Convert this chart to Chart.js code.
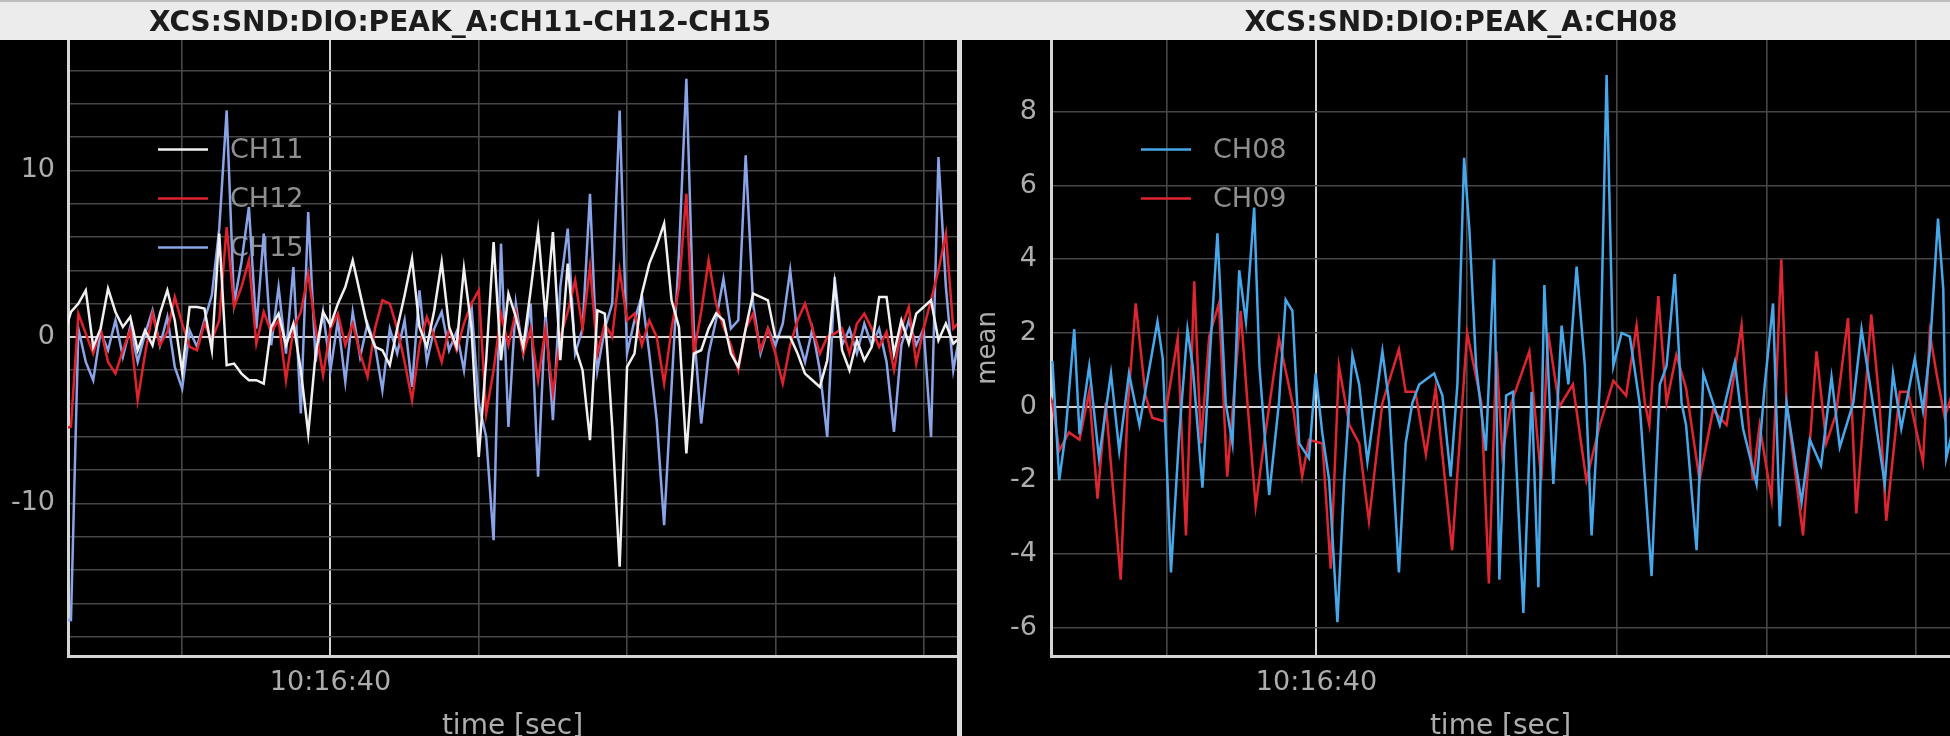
<!DOCTYPE html>
<html>
<head>
<meta charset="utf-8">
<script src="https://cdn.jsdelivr.net/npm/chart.js@4.4.1/dist/chart.umd.min.js"></script>
<style>
  html, body { margin: 0; padding: 0; background: #000; width: 1950px; height: 736px; overflow: hidden; }
  canvas { position: absolute; top: 0; }
  #bar { position: absolute; left: 0; top: 0; width: 1950px; height: 40px; background: #ececec;
         border-top: 2px solid #bdbdbd; box-sizing: border-box; }
  .title { position: absolute; top: 2px; height: 40px; line-height: 40px; transform: translateX(-50%);
           font-family: 'DejaVu Sans'; font-weight: bold; font-size: 28px; color: #1c1c1c; white-space: nowrap; }
  #sep { position: absolute; left: 957px; top: 40px; width: 5px; height: 696px; background: #dcdcdc; }
</style>
</head>
<body>
<canvas id="leftPlot" width="957" height="760" style="left:0px"></canvas>
<div id="sep"></div>
<canvas id="rightPlot" width="988" height="760" style="left:962px"></canvas>
<div id="bar"></div>
<div class="title" style="left:460px">XCS:SND:DIO:PEAK_A:CH11-CH12-CH15</div>
<div class="title" style="left:1461px">XCS:SND:DIO:PEAK_A:CH08</div>
<script>
// Reference clock for the time axis; sample times are seconds relative to it.
const BASE_TIME = '10:16:40';

// Left panel: CH11 / CH12 / CH15 sampled every 0.1 s
const leftTime = [
  -3.6,-3.5,-3.4,-3.3,-3.2,-3.1,-3.0,-2.9,-2.8,-2.7,
  -2.6,-2.5,-2.4,-2.3,-2.2,-2.1,-2.0,-1.9,-1.8,-1.7,
  -1.6,-1.5,-1.4,-1.3,-1.2,-1.1,-1.0,-0.9,-0.8,-0.7,
  -0.6,-0.5,-0.4,-0.3,-0.2,-0.1,
  0.0,0.1,0.2,0.3,0.4,0.5,0.6,0.7,0.8,0.9,
  1.0,1.1,1.2,1.3,1.4,1.5,1.6,1.7,1.8,1.9,
  2.0,2.1,2.2,2.3,2.4,2.5,2.6,2.7,2.8,2.9,
  3.0,3.1,3.2,3.3,3.4,3.5,3.6,3.7,3.8,3.9,
  4.0,4.1,4.2,4.3,4.4,4.5,4.6,4.7,4.8,4.9,
  5.0,5.1,5.2,5.3,5.4,5.5,5.6,5.7,5.8,5.9,
  6.0,6.1,6.2,6.3,6.4,6.5,6.6,6.7,6.8,6.9,
  7.0,7.1,7.2,7.3,7.4,7.5,7.6,7.7,7.8,7.9,
  8.0,8.1,8.2,8.3,8.4,8.5
];
const ch11 = [
  0.0,1.5,2.0,2.8,-0.6,0.5,2.9,1.5,0.6,1.2,
  -0.8,0.4,-0.5,1.4,2.8,1.0,-2.1,1.8,1.8,1.7,
  -0.8,6.2,-1.7,-1.6,-2.2,-2.6,-2.6,-2.8,0.6,1.4,
  -0.5,0.8,-2.0,-5.8,-1.0,1.5,
  0.7,2.0,3.0,4.6,2.6,0.6,-0.6,-0.8,-1.7,0.5,
  2.5,4.7,0.6,-0.6,1.6,4.5,0.6,-0.6,4.1,0.6,
  -7.2,-1.4,5.7,-1.4,2.6,1.2,-0.6,2.8,6.4,1.2,
  6.3,-1.4,4.4,-0.6,-2.0,-6.2,1.6,1.4,-5.4,-13.8,
  -1.8,-1.0,2.6,4.4,5.5,6.8,2.2,0.6,-7.0,-1.0,
  -0.8,0.5,1.4,1.0,-1.0,-1.8,0.5,2.6,2.4,2.2,
  0.0,0.0,0.0,-1.0,-2.2,-2.6,-3.0,-1.4,3.2,-0.8,
  -2.0,-0.2,-1.4,-0.6,2.4,2.4,-1.0,1.0,-0.4,1.4,
  1.8,2.2,-0.2,0.8,-0.4,0.0
];
const ch12 = [
  -5.5,-5.4,1.4,0.2,-1.0,0.5,-1.5,-2.2,-0.8,0.4,
  -3.8,-1.0,1.4,-0.5,0.3,2.4,0.8,-0.6,-0.8,0.8,
  -0.2,1.0,6.6,1.8,3.0,4.6,-0.4,1.5,0.3,1.0,
  -2.6,0.5,1.5,3.8,0.5,-2.3,
  0.5,1.4,-0.5,0.8,-1.0,-2.4,0.5,2.2,2.0,0.5,
  -1.5,-3.8,-0.5,1.2,0.0,-1.5,0.5,-0.8,0.8,2.0,
  2.8,-4.6,-2.0,1.4,-0.5,1.5,-1.0,0.5,-2.6,0.5,
  -3.4,0.0,1.5,3.4,0.5,4.2,-1.0,0.8,0.0,4.0,
  1.0,1.4,-0.5,1.0,0.0,-2.8,0.5,3.0,8.6,-1.0,
  1.5,4.6,2.0,0.6,-0.5,-2.0,0.5,1.4,-0.8,0.5,
  -1.0,-2.8,-0.5,1.0,2.0,0.5,-1.0,0.0,0.2,0.5,
  -1.0,0.8,1.4,0.5,-0.6,0.3,-2.0,0.5,1.8,-1.6,
  0.5,2.2,4.0,6.2,0.5,1.0
];
const ch15 = [
  -17.0,-17.0,0.5,-1.5,-2.6,0.3,-0.8,1.0,-1.2,0.6,
  -1.5,0.2,1.6,-0.5,1.2,-1.8,-3.1,0.4,-0.6,1.0,
  2.5,6.5,13.6,2.0,4.5,7.8,0.5,6.2,-0.5,3.0,
  -1.0,4.2,-4.6,7.5,-1.5,1.5,
  -2.0,1.0,-2.7,1.5,-1.2,0.8,-0.5,-3.2,0.5,-1.0,
  1.0,-3.0,2.8,-1.5,0.5,1.5,-0.8,0.3,-2.0,2.0,
  -4.0,-6.0,-12.2,5.6,-5.4,2.0,-1.0,2.0,-8.4,1.5,
  -5.0,3.0,6.5,-1.0,0.5,8.6,-2.0,0.5,2.0,13.6,
  -1.0,1.0,2.5,-1.0,-5.0,-11.3,-3.0,5.0,15.5,0.5,
  -5.2,-1.0,1.0,3.5,0.5,1.0,10.9,2.0,-1.0,0.5,
  -0.5,0.8,4.0,0.0,-1.5,0.5,-2.0,-6.0,3.6,-0.5,
  0.5,-1.0,0.8,-0.5,0.5,-1.5,-5.7,-0.5,1.0,-0.5,
  0.5,-6.0,10.8,3.0,-2.0,0.5
];

// Right panel: CH08 / CH09 (mean), turning points in time order
const ch08Time = [
  -3.6,-3.52,-3.43,-3.35,-3.23,-3.16,-3.03,-2.9,-2.74,-2.63,
  -2.5,-2.36,-2.12,-2.05,-1.94,-1.83,-1.72,-1.65,-1.52,-1.43,
  -1.32,-1.21,-1.12,-1.03,-0.94,-0.83,-0.76,-0.63,-0.5,-0.41,
  -0.32,-0.23,-0.1,-0.01,0.08,0.17,0.28,0.37,0.48,0.57,
  0.68,0.88,0.97,1.1,1.19,1.28,1.37,1.57,1.68,1.79,
  1.88,1.97,2.04,2.13,2.26,2.37,2.44,2.53,2.62,2.76,
  2.87,2.96,3.04,3.16,3.27,3.36,3.47,3.58,3.67,3.78,
  3.87,3.96,4.07,4.18,4.31,4.47,4.58,4.67,4.78,4.87,
  4.93,5.07,5.16,5.29,5.38,5.58,5.69,5.87,5.98,6.09,
  6.18,6.27,6.47,6.58,6.73,6.87,6.98,7.16,7.27,7.42,
  7.58,7.69,7.8,7.98,8.09,8.18,8.29,8.36,8.4,8.5
];
const ch08 = [
  1.2,1.2,-2.0,-0.8,2.1,-0.75,1.1,-1.4,0.9,-1.2,
  0.9,-0.5,2.3,1.3,-4.5,-0.75,2.1,1.1,-2.2,1.1,
  4.7,0.1,-1.0,3.7,2.3,5.4,1.1,-2.4,0.1,2.9,
  2.6,-1.0,-1.4,0.9,-0.75,-2.0,-5.85,-2.0,1.4,0.6,
  -1.5,1.5,0.1,-4.5,-1.0,0.1,0.6,0.9,0.3,-1.9,
  0.6,6.75,4.8,1.1,-1.2,4.0,-4.7,0.3,0.4,-5.6,
  0.4,-4.9,3.3,-2.1,2.2,0.6,3.8,1.1,-3.5,0.6,
  9.0,1.1,2.0,1.9,0.1,-4.6,0.6,1.1,3.6,0.1,
  -0.5,-3.9,0.9,0.1,-0.5,1.2,-0.6,-2.1,0.6,2.8,
  -3.25,0.1,-2.6,-0.9,-1.6,0.8,-1.1,0.1,2.1,0.1,
  -2.1,0.9,-0.6,1.3,-0.1,1.5,5.1,3.2,-1.4,-0.5
];
const ch09Time = [
  -3.6,-3.52,-3.43,-3.3,-3.16,-3.03,-2.92,-2.81,-2.61,-2.52,
  -2.41,-2.28,-2.19,-2.03,-1.85,-1.74,-1.63,-1.54,-1.43,-1.3,
  -1.19,-1.01,-0.92,-0.81,-0.7,-0.5,-0.32,-0.19,-0.1,0.08,
  0.19,0.3,0.44,0.57,0.7,0.88,1.1,1.19,1.32,1.46,
  1.59,1.81,2.01,2.2,2.3,2.4,2.48,2.6,2.84,3.0,
  3.09,3.24,3.42,3.6,3.78,3.96,4.13,4.27,4.38,4.44,
  4.56,4.67,4.8,4.93,5.11,5.29,5.47,5.67,5.82,5.91,
  6.07,6.2,6.27,6.49,6.67,6.8,6.93,7.09,7.2,7.4,
  7.51,7.6,7.78,7.89,8.09,8.18,8.27,8.38,8.5
];
const ch09 = [
  0.5,0.1,-1.2,-0.7,-0.9,0.4,-2.5,0.1,-4.7,-0.1,
  2.8,0.3,-0.3,-0.4,1.85,-3.5,3.4,-1.0,1.9,2.8,
  -1.9,2.6,0.1,-2.7,-1.0,1.85,0.1,-1.9,-0.9,-1.0,
  -4.4,1.1,-0.5,-1.0,-3.1,0.1,1.55,0.4,0.4,-1.3,
  0.5,-3.9,2.0,0.1,-4.8,1.5,-1.3,0.1,1.5,-2.0,
  2.0,0.0,0.6,-2.0,-0.5,0.7,0.3,2.2,0.1,-0.5,
  3.0,0.1,1.4,0.5,-2.0,-0.1,-0.5,2.2,-2.0,-0.5,
  -2.5,4.0,0.1,-3.5,1.5,-1.0,-0.2,2.4,-2.9,2.5,
  0.1,-3.1,0.4,0.4,-1.5,2.0,0.9,-0.3,0.5
];

// Axis extents
const timeMin = -3.54, timeMax = 8.45;
const leftYMin = -19.16, leftYMax = 17.83;
const rightYMin = -6.77, rightYMax = 9.95;

const baseSec = BASE_TIME.split(':').reduce((acc, p) => acc * 60 + Number(p), 0);
function clock(sec) {
  const s = Math.round(sec);
  const pad = n => String(n).padStart(2, '0');
  return pad(Math.floor(s / 3600)) + ':' + pad(Math.floor(s / 60) % 60) + ':' + pad(s % 60);
}
function series(times, values) {
  return values.map((v, i) => ({ x: times[i], y: v }));
}

Chart.defaults.font.family = "'DejaVu Sans'";

const TICK_COLOR = '#adadad';
const GRID_MINOR = '#474747';
const GRID_MAJOR = '#d2d2d2';

// Legend drawn inside the plot area, underneath the traces
const insetLegend = {
  id: 'insetLegend',
  beforeDatasetsDraw(chart) {
    const { ctx, chartArea } = chart;
    ctx.save();
    ctx.font = "27px 'DejaVu Sans'";
    ctx.textBaseline = 'middle';
    ctx.textAlign = 'left';
    chart.data.datasets.forEach((ds, i) => {
      const y = chartArea.top + 109.5 + 49 * i;
      ctx.strokeStyle = ds.borderColor;
      ctx.lineWidth = 2.5;
      ctx.beginPath();
      ctx.moveTo(chartArea.left + 90, y);
      ctx.lineTo(chartArea.left + 140, y);
      ctx.stroke();
      ctx.fillStyle = '#8f8f8f';
      ctx.fillText(ds.label, chartArea.left + 162, y + 1);
    });
    ctx.restore();
  }
};

function buildChart(canvasId, datasets, cfg) {
  return new Chart(document.getElementById(canvasId), {
    type: 'line',
    data: { datasets },
    options: {
      responsive: false,
      animation: false,
      devicePixelRatio: 1,
      layout: { padding: { top: 40, left: 0, right: 0, bottom: 0 } },
      elements: { point: { radius: 0 }, line: { borderWidth: 2.5, tension: 0 } },
      plugins: { legend: { display: false }, tooltip: { enabled: false }, title: { display: false } },
      scales: {
        x: {
          type: 'linear',
          min: timeMin,
          max: timeMax,
          afterFit(scale) { scale.height = 104; },
          ticks: {
            stepSize: 2, includeBounds: false, autoSkip: false, maxRotation: 0, padding: 11,
            color: TICK_COLOR, font: { size: 27 },
            callback(v) {
              const s = Math.round((baseSec + v) * 1000) / 1000;
              return (s % 10 === 0) ? clock(s) : '';
            }
          },
          grid: {
            drawTicks: false,
            color: c => (c.tick && Math.round(baseSec + c.tick.value) % 10 === 0) ? GRID_MAJOR : GRID_MINOR,
            lineWidth: c => (c.tick && Math.round(baseSec + c.tick.value) % 10 === 0) ? 2 : 1.6
          },
          border: { display: true, color: '#d4d4d4', width: 3 },
          title: { display: true, text: 'time [sec]', color: TICK_COLOR, font: { size: 28 },
                   padding: { top: 0, bottom: 16 } }
        },
        y: {
          type: 'linear',
          min: cfg.yMin,
          max: cfg.yMax,
          afterFit(scale) { scale.width = cfg.axisWidth; },
          ticks: {
            stepSize: 2, includeBounds: false, autoSkip: false, padding: cfg.tickPad,
            color: TICK_COLOR, font: { size: 27 },
            callback: v => (Math.round(v) % cfg.labelEvery === 0) ? String(Math.round(v)) : ''
          },
          grid: {
            drawTicks: false,
            color: c => (c.tick && c.tick.value === 0) ? GRID_MAJOR : GRID_MINOR,
            lineWidth: c => (c.tick && c.tick.value === 0) ? 2 : 1.6
          },
          border: { display: true, color: '#d4d4d4', width: 3 },
          title: cfg.yTitle
            ? { display: true, text: cfg.yTitle, color: TICK_COLOR, font: { size: 26 }, padding: { top: 11, bottom: 0 } }
            : { display: false }
        }
      }
    },
    plugins: [insetLegend]
  });
}

buildChart('leftPlot', [
  { label: 'CH11', data: series(leftTime, ch11), borderColor: '#f0f0f0' },
  { label: 'CH12', data: series(leftTime, ch12), borderColor: '#e0222c' },
  { label: 'CH15', data: series(leftTime, ch15), borderColor: '#8aa4e8' }
], { yMin: leftYMin, yMax: leftYMax, axisWidth: 68, tickPad: 13, labelEvery: 10, yTitle: null });

buildChart('rightPlot', [
  { label: 'CH08', data: series(ch08Time, ch08), borderColor: '#46a8ea' },
  { label: 'CH09', data: series(ch09Time, ch09), borderColor: '#df2630' }
], { yMin: rightYMin, yMax: rightYMax, axisWidth: 89, tickPad: 14, labelEvery: 2, yTitle: 'mean' });
</script>
</body>
</html>
